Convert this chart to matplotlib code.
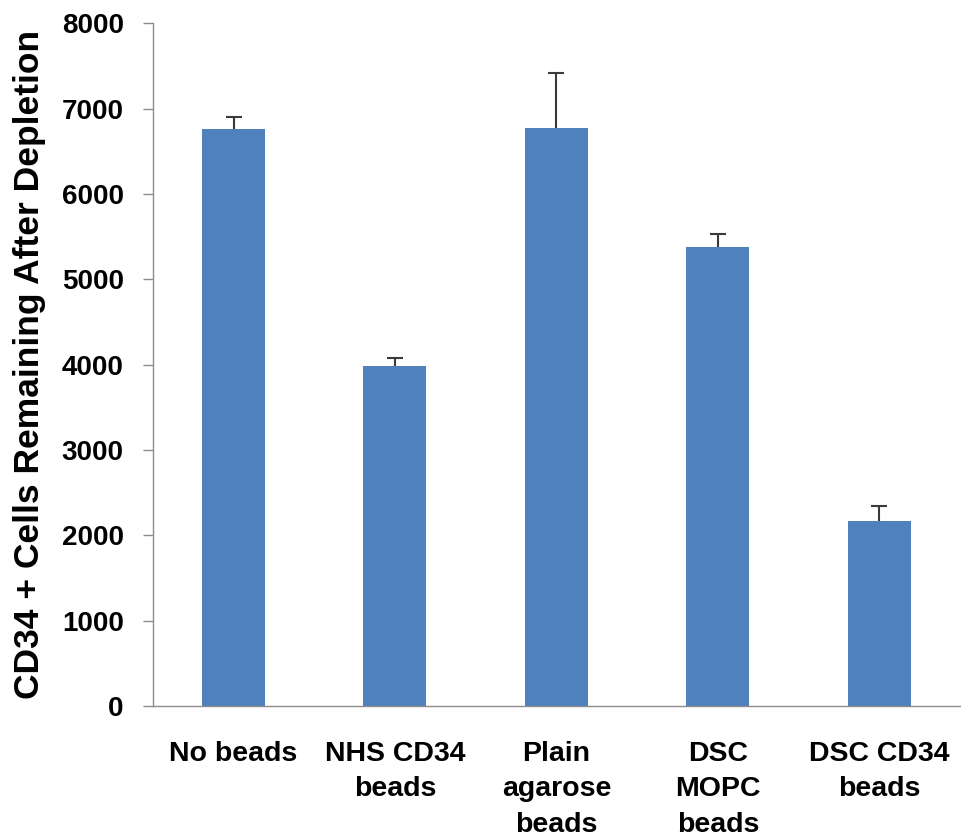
import numpy as np
import matplotlib
matplotlib.use('Agg')
import matplotlib.pyplot as plt

plt.rcParams['font.family'] = ['Liberation Sans', 'DejaVu Sans']
plt.rcParams['font.weight'] = 'bold'

categories = ['No beads', 'NHS CD34\nbeads', 'Plain\nagarose\nbeads', 'DSC\nMOPC\nbeads', 'DSC CD34\nbeads']
cells      = [6760, 3980, 6770, 5385, 2170]
err_up     = [140, 105, 655, 150, 180]

BAR_COLOR  = '#4F81BD'
AXIS_COLOR = '#8c8c8c'

fig = plt.figure(figsize=(9.61, 8.39), dpi=100)
ax = fig.add_axes([0.159, 0.1585, 0.84, 0.8135])

x = np.arange(len(categories))
ax.bar(x, cells, width=0.39, color=BAR_COLOR, zorder=2)
_, caps, _ = ax.errorbar(x, cells, yerr=[np.zeros(len(err_up)), err_up], fmt='none',
                         ecolor='#3a3a3a', elinewidth=1.5, capsize=5.5, capthick=1.5,
                         zorder=3)
# upper error only: drop the caps that sit on the bar tops
for c in caps:
    if np.allclose(c.get_ydata(), cells):
        c.set_visible(False)

ax.set_xlim(-0.5, len(categories) - 0.5)
ax.set_ylim(0, 8000)
ax.set_yticks(range(0, 8001, 1000))
ax.set_xticks(x)
ax.set_xticklabels(categories, fontsize=20.5, fontweight='bold', linespacing=1.48)

for s in ['top', 'right']:
    ax.spines[s].set_visible(False)
for s in ['left', 'bottom']:
    ax.spines[s].set_color(AXIS_COLOR)
    ax.spines[s].set_linewidth(1.0)

ax.tick_params(axis='y', direction='out', length=7, width=1.0, color=AXIS_COLOR,
               labelsize=20, pad=14)
ax.tick_params(axis='x', length=0, pad=25)
for t in ax.get_yticklabels():
    t.set_fontweight('bold')

ax.set_ylabel('CD34 + Cells Remaining After Depletion', fontsize=25.5,
              fontweight='bold', labelpad=11)

fig.savefig('out.png', dpi=100)
